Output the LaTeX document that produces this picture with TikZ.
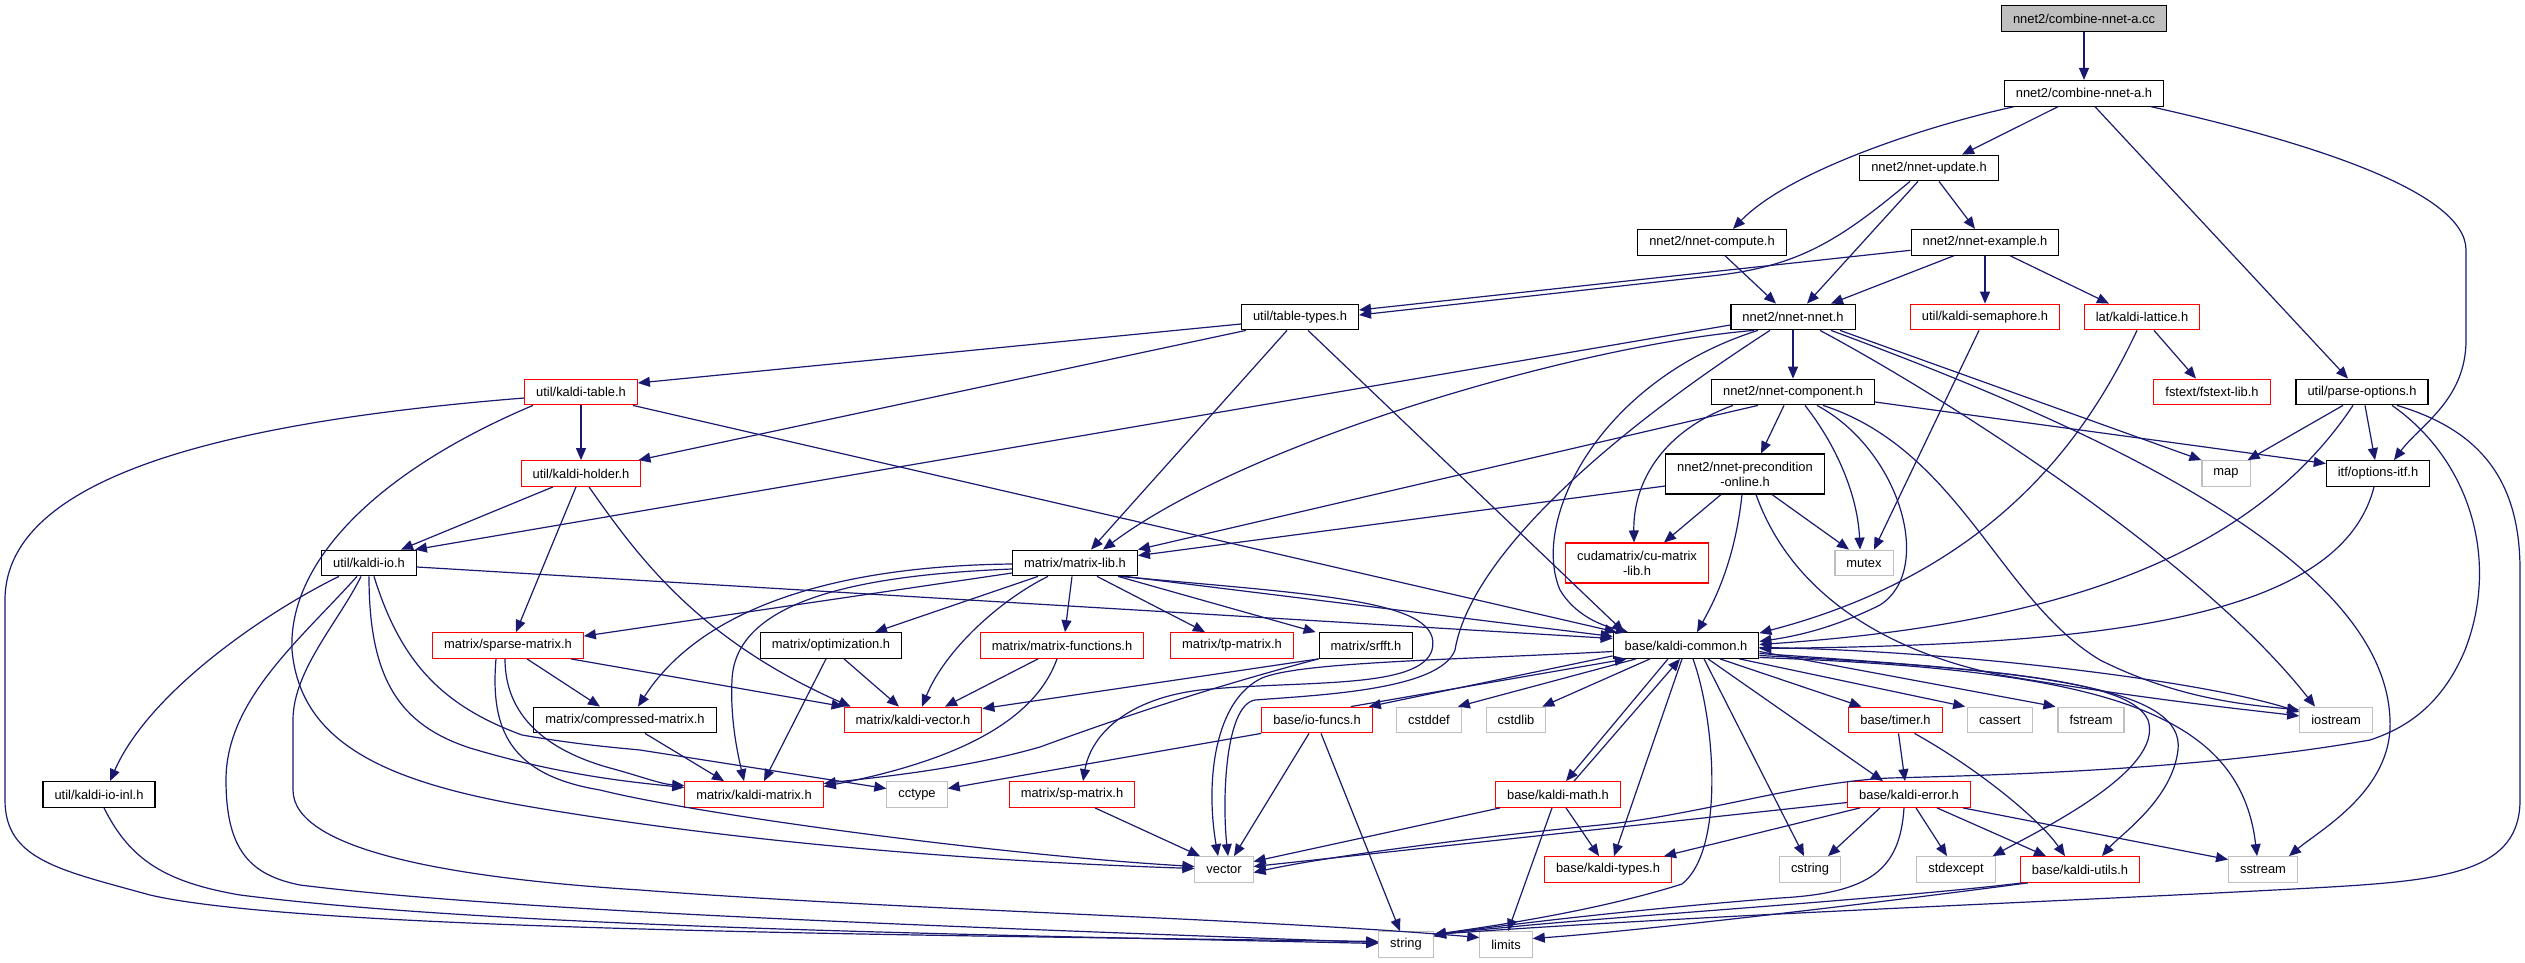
\documentclass[tikz,border=0pt]{standalone}
\usepackage{fontspec}
\setmainfont{Liberation Sans}
\usetikzlibrary{arrows.meta}
\definecolor{edgeblue}{HTML}{191970}
\definecolor{rootgray}{HTML}{BFBFBF}
\definecolor{boxgray}{HTML}{BFBFBF}
\definecolor{boxred}{HTML}{FF0000}
\tikzset{
  box/.style={draw=black, line width=1.1pt, fill=white, inner xsep=11.5pt, inner ysep=0pt,
    minimum height=25.7pt, font={\fontsize{12.9pt}{15pt}\selectfont}, text=black},
  redbox/.style={box, draw=boxred},
  graybox/.style={box, draw=boxgray},
  rootbox/.style={box, fill=rootgray},
  twoline/.style={align=center, minimum height=40pt},
  edge/.style={draw=edgeblue, line width=1.2pt, -{Triangle[length=12pt,width=10pt]}},
}
\begin{document}
\begin{tikzpicture}[x=1pt,y=-1pt]
\useasboundingbox (0,0) rectangle (2525,963);
% ---------- nodes ----------
\node[rootbox] (cc) at (2084,18.5) {nnet2/combine-nnet-a.cc};
\node[box] (combh) at (2084,93.3) {nnet2/combine-nnet-a.h};
\node[box] (update) at (1929,168) {nnet2/nnet-update.h};
\node[box] (example) at (1985,242.3) {nnet2/nnet-example.h};
\node[box] (compute) at (1712,242.3) {nnet2/nnet-compute.h};
\node[box] (nnet) at (1793,317) {nnet2/nnet-nnet.h};
\node[box] (tabletypes) at (1300,317) {util/table-types.h};
\node[redbox] (semaphore) at (1985,317) {util/kaldi-semaphore.h};
\node[redbox] (lattice) at (2142,317) {lat/kaldi-lattice.h};
\node[redbox] (kaldtable) at (581,392) {util/kaldi-table.h};
\node[box] (component) at (1793,392) {nnet2/nnet-component.h};
\node[redbox] (fstext) at (2212,392) {fstext/fstext-lib.h};
\node[box] (parseopt) at (2362,392) {util/parse-options.h};
\node[redbox] (holder) at (581,473.5) {util/kaldi-holder.h};
\node[box,twoline] (precond) at (1745,474) {nnet2/nnet-precondition\\-online.h};
\node[graybox] (nmap) at (2226,473.5) {map};
\node[box] (optionsitf) at (2378,473.5) {itf/options-itf.h};
\node[box] (kaldiio) at (369,563) {util/kaldi-io.h};
\node[box] (matrixlib) at (1075,563) {matrix/matrix-lib.h};
\node[redbox,twoline] (cumatrix) at (1637,563) {cudamatrix/cu-matrix\\-lib.h};
\node[graybox] (mutex) at (1864,563) {mutex};
\node[redbox] (sparse) at (508,645.5) {matrix/sparse-matrix.h};
\node[box] (optim) at (831,645.5) {matrix/optimization.h};
\node[redbox] (matfunc) at (1062,645.5) {matrix/matrix-functions.h};
\node[redbox] (tpmat) at (1232,645.5) {matrix/tp-matrix.h};
\node[box] (srfft) at (1366,645.5) {matrix/srfft.h};
\node[box] (common) at (1686,645.5) {base/kaldi-common.h};
\node[box] (compressed) at (625,720) {matrix/compressed-matrix.h};
\node[redbox] (kvector) at (913,720) {matrix/kaldi-vector.h};
\node[redbox] (iofuncs) at (1317,720) {base/io-funcs.h};
\node[graybox] (cstddef) at (1429,720) {cstddef};
\node[graybox] (cstdlib) at (1516,720) {cstdlib};
\node[redbox] (timer) at (1895.5,720) {base/timer.h};
\node[graybox] (cassert) at (2000,720) {cassert};
\node[graybox] (fstream) at (2091,720) {fstream};
\node[graybox] (iostream) at (2336,720) {iostream};
\node[box] (kaldiioinl) at (99,794.5) {util/kaldi-io-inl.h};
\node[redbox] (kmatrix) at (754,794.5) {matrix/kaldi-matrix.h};
\node[graybox] (cctype) at (917,794.5) {cctype};
\node[redbox] (spmatrix) at (1072,794.5) {matrix/sp-matrix.h};
\node[redbox] (kmath) at (1558,794.5) {base/kaldi-math.h};
\node[redbox] (kerror) at (1909,794.5) {base/kaldi-error.h};
\node[graybox] (nvector) at (1224,869.5) {vector};
\node[redbox] (ktypes) at (1608,869.5) {base/kaldi-types.h};
\node[graybox] (cstring) at (1810,869.5) {cstring};
\node[graybox] (stdexcept) at (1956,869.5) {stdexcept};
\node[redbox] (kutils) at (2080,869.5) {base/kaldi-utils.h};
\node[graybox] (sstream) at (2263,869.5) {sstream};
\node[graybox] (nstring) at (1406,944.5) {string};
\node[graybox] (limits) at (1506,944.5) {limits};
% ---------- edges ----------
\draw[edge] (cc) -- (combh);
\draw[edge] ([xshift=-70pt]combh.south) .. controls (1930,125) and (1790,170) .. ([xshift=21pt]compute.north);
\draw[edge] ([xshift=-26pt]combh.south) -- ([xshift=33pt]update.north);
\draw[edge] ([xshift=11pt]combh.south) -- ([xshift=-14pt]parseopt.north);
\draw[edge] ([xshift=67pt]combh.south) .. controls (2300,140) and (2466,190) .. (2466,250) -- (2466,340) .. controls (2466,400) and (2420,425) .. ([xshift=16pt]optionsitf.north);
\draw[edge] ([xshift=-19pt]update.south) .. controls (1840,240) and (1800,265) .. (1720,275) -- ([yshift=2pt]tabletypes.east);
\draw[edge] ([xshift=-11pt]update.south) -- ([xshift=14pt]nnet.north);
\draw[edge] ([xshift=10pt]update.south) -- ([xshift=-10pt]example.north);
\draw[edge] ([yshift=-8pt]example.west) -- ([yshift=7pt]tabletypes.east);
\draw[edge] ([xshift=-31pt]example.south) -- ([xshift=38pt]nnet.north);
\draw[edge] (example) -- (semaphore);
\draw[edge] ([xshift=25pt]example.south) -- ([xshift=-33pt]lattice.north);
\draw[edge] ([xshift=13pt]compute.south) -- ([xshift=-17pt]nnet.north);
\draw[edge] ([yshift=-7pt]tabletypes.west) -- ([yshift=9pt]kaldtable.east);
\draw[edge] ([xshift=-54pt]tabletypes.south) -- ([xshift=-3pt]holder.north east);
\draw[edge] ([xshift=-13pt]tabletypes.south) -- ([xshift=16pt]matrixlib.north);
\draw[edge] ([xshift=8pt]tabletypes.south) -- ([xshift=-62pt]common.north);
\draw[edge] ([yshift=-6pt]kaldtable.west) .. controls (250,420) and (5,470) .. (5,600) -- (5,800) .. controls (5,860) and (60,870) .. (150,895) .. controls (300,930) and (900,935) .. ([yshift=3pt]nstring.west);
\draw[edge] (kaldtable) -- (holder);
\draw[edge] ([xshift=-5pt]kaldtable.south east) -- ([xshift=4pt]common.north west);
\draw[edge] ([xshift=-48pt]kaldtable.south) .. controls (380,470) and (288,560) .. (292,650) .. controls (300,740) and (380,780) .. (520,805) .. controls (750,845) and (1000,862) .. ([yshift=1pt]nvector.west);
\draw[edge] ([xshift=-28pt]holder.south) -- ([xshift=32pt]kaldiio.north);
\draw[edge] ([xshift=-5pt]holder.south) -- ([xshift=8pt]sparse.north);
\draw[edge] ([xshift=8pt]holder.south) .. controls (640,560) and (700,640) .. ([xshift=7pt]kvector.north west);
\draw[edge] ([xshift=-30pt]kaldiio.south) .. controls (270,610) and (150,690) .. ([xshift=11pt]kaldiioinl.north);
\draw[edge] ([xshift=-12pt]kaldiio.south) .. controls (300,640) and (226,700) .. (226,780) .. controls (226,850) and (250,875) .. (300,885) .. controls (500,910) and (900,925) .. ([yshift=2pt]nstring.west);
\draw[edge] ([xshift=-8pt]kaldiio.south) .. controls (340,620) and (293,670) .. (293,720) -- (293,790) .. controls (293,850) and (450,878) .. (640,890) .. controls (900,910) and (1250,918) .. ([yshift=7pt]limits.west);
\draw[edge] (kaldiio.south) .. controls (369,680) and (400,725) .. (470,748) .. controls (560,775) and (630,782) .. ([yshift=7pt]kmatrix.west);
\draw[edge] ([xshift=5pt]kaldiio.south) .. controls (400,660) and (440,705) .. (522,735) .. controls (580,745) and (620,748) .. (640,750) -- ([yshift=6pt]cctype.west);
\draw[edge] ([yshift=-4pt]kaldiio.east) -- ([yshift=7pt]common.west);
\draw[edge] ([xshift=19pt]sparse.south) -- ([xshift=-25pt]compressed.north);
\draw[edge] ([xshift=-13pt]sparse.south east) -- (kvector.north west);
\draw[edge] ([xshift=-3pt]sparse.south) .. controls (505,715) and (545,750) .. (610,768) .. controls (640,776) and (660,784) .. ([yshift=9pt]kmatrix.west);
\draw[edge] ([xshift=-12pt]sparse.south) .. controls (490,730) and (510,775) .. (600,790) .. controls (700,815) and (1000,855) .. ([yshift=3pt]nvector.west);
\draw[edge] ([yshift=-1pt]matrixlib.west) .. controls (830,566) and (700,610) .. ([xshift=13pt]compressed.north);
\draw[edge] ([yshift=-6pt]matrixlib.west) .. controls (860,575) and (735,600) .. (732,680) .. controls (730,720) and (738,755) .. ([xshift=-10pt]kmatrix.north);
\draw[edge] ([yshift=-10pt]matrixlib.west) -- ([yshift=-4pt]sparse.north east);
\draw[edge] ([xshift=-37pt]matrixlib.south) -- ([xshift=44pt]optim.north);
\draw[edge] ([xshift=-27pt]matrixlib.south) .. controls (1000,600) and (945,650) .. ([xshift=9pt]kvector.north);
\draw[edge] ([xshift=-3pt]matrixlib.south) -- ([xshift=3pt]matfunc.north);
\draw[edge] ([xshift=22pt]matrixlib.south) -- ([xshift=-27pt]tpmat.north);
\draw[edge] ([xshift=43pt]matrixlib.south) -- ([xshift=-3pt]srfft.north west);
\draw[edge] ([xshift=50pt]matrixlib.south) -- ([yshift=9pt]common.west);
\draw[edge] ([xshift=45pt]matrixlib.south) .. controls (1320,595) and (1445,600) .. (1432,650) .. controls (1420,690) and (1300,680) .. (1200,690) .. controls (1120,700) and (1090,740) .. ([xshift=11pt]spmatrix.north);
\draw[edge] ([xshift=13pt]optim.south) -- ([xshift=-14pt]kvector.north);
\draw[edge] ([xshift=-5pt]optim.south) -- ([xshift=10pt]kmatrix.north);
\draw[edge] ([xshift=-24pt]matfunc.south) -- ([xshift=32pt]kvector.north);
\draw[edge] ([xshift=-5pt]matfunc.south) .. controls (1035,720) and (960,760) .. ([yshift=8pt]kmatrix.east);
\draw[edge] (srfft.south west) -- ([yshift=-2pt]kvector.north east);
\draw[edge] (srfft.south west) .. controls (1200,690) and (1100,725) .. (1040,747) .. controls (960,770) and (870,778) .. ([yshift=11pt]kmatrix.east);
\draw[edge] ([xshift=20pt]compressed.south) -- ([xshift=-30pt]kmatrix.north);
\draw[edge] ([xshift=23pt]spmatrix.south) -- ([xshift=-24pt]nvector.north);
\draw[edge] (nnet) -- (component);
\draw[edge] ([yshift=-8pt]nnet.west) -- ([xshift=-2pt]kaldiio.north east);
\draw[edge] ([xshift=-39pt]nnet.south) .. controls (1580,345) and (1250,440) .. ([xshift=28pt]matrixlib.north);
\draw[edge] ([xshift=-35pt]nnet.south) .. controls (1600,380) and (1530,520) .. (1560,590) .. controls (1575,615) and (1600,625) .. ([xshift=-58pt]common.north);
\draw[edge] ([xshift=-23pt]nnet.south) .. controls (1600,440) and (1470,560) .. (1455,650) .. controls (1440,690) and (1320,695) .. (1255,700) .. controls (1225,705) and (1222,800) .. ([xshift=4pt]nvector.north);
\draw[edge] ([xshift=47pt]nnet.south) -- (nmap.north west);
\draw[edge] ([xshift=27pt]nnet.south) .. controls (1950,400) and (2200,560) .. ([xshift=-21pt]iostream.north);
\draw[edge] ([xshift=38pt]nnet.south) .. controls (2100,430) and (2385,560) .. (2390,720) .. controls (2393,790) and (2320,830) .. ([xshift=26pt]sstream.north);
\draw[edge] ([xshift=-6pt]semaphore.south) -- ([xshift=10pt]mutex.north);
\draw[edge] ([xshift=12pt]lattice.south) -- ([xshift=-16pt]fstext.north);
\draw[edge] ([xshift=-5pt]lattice.south) .. controls (2090,430) and (2000,570) .. ([yshift=-1pt]common.north east);
\draw[edge] ([xshift=-9pt]component.south) -- ([xshift=16pt]precond.north);
\draw[edge] ([xshift=-60pt]component.south) .. controls (1665,430) and (1633,480) .. ([xshift=-3pt]cumatrix.north);
\draw[edge] ([xshift=-35pt]component.south) -- (matrixlib.north east);
\draw[edge] ([xshift=12pt]component.south) .. controls (1840,450) and (1858,500) .. ([xshift=-4pt]mutex.north);
\draw[edge] ([xshift=24pt]component.south) .. controls (1900,450) and (1935,570) .. (1880,605) .. controls (1830,630) and (1790,637) .. ([yshift=4pt]common.east);
\draw[edge] ([yshift=-10pt]component.east) -- ([yshift=10pt]optionsitf.west);
\draw[edge] ([xshift=30pt]component.south) .. controls (1960,450) and (2000,600) .. (2100,660) .. controls (2180,700) and (2250,705) .. ([yshift=10pt]iostream.west);
\draw[edge] ([xshift=-24pt]precond.south) -- ([xshift=27pt]cumatrix.north);
\draw[edge] ([yshift=-12pt]precond.west) -- ([yshift=-6pt]matrixlib.north east);
\draw[edge] ([xshift=-3pt]precond.south) .. controls (1735,560) and (1715,600) .. ([xshift=11pt]common.north);
\draw[edge] ([xshift=27pt]precond.south) -- ([xshift=-15pt]mutex.north);
\draw[edge] ([xshift=11pt]precond.south) .. controls (1790,590) and (1880,650) .. (2000,675) .. controls (2150,700) and (2250,710) .. ([yshift=4pt]iostream.west);
\draw[edge] ([xshift=-19pt]parseopt.south) -- ([xshift=-3pt]nmap.north east);
\draw[edge] ([xshift=3pt]parseopt.south) -- ([xshift=-3pt]optionsitf.north);
\draw[edge] ([xshift=-9pt]parseopt.south) .. controls (2250,560) and (2050,625) .. ([yshift=1pt]common.east);
\draw[edge] ([xshift=-4pt]optionsitf.south) .. controls (2340,620) and (2100,645) .. ([yshift=-3pt]common.east);
\draw[edge] ([xshift=30pt]parseopt.south) .. controls (2470,460) and (2500,560) .. (2465,650) .. controls (2440,710) and (2400,730) .. (2370,740) .. controls (2200,770) and (2000,775) .. (1890,778) .. controls (1800,782) and (1700,815) .. (1600,825) .. controls (1450,840) and (1320,858) .. ([yshift=-3pt]nvector.east);
\draw[edge] ([xshift=35pt]parseopt.south) .. controls (2480,430) and (2520,480) .. (2520,570) -- (2520,800) .. controls (2520,870) and (2450,880) .. (2330,887) .. controls (2100,900) and (1700,915) .. ([yshift=10pt]nstring.east);
\draw[edge] ([yshift=3pt]common.south west) -- ([xshift=-4pt]iofuncs.north east);
\draw[edge] ([xshift=-22pt]iofuncs.north east) -- ([xshift=14pt]common.south west);
\draw[edge] ([xshift=-50pt]common.south) -- ([xshift=-4pt]cstddef.north east);
\draw[edge] ([xshift=-36pt]common.south) -- ([xshift=-4pt]cstdlib.north east);
\draw[edge] ([xshift=-18pt]common.south) -- ([xshift=8pt]kmath.north);
\draw[edge] ([xshift=16pt]kmath.north) -- ([xshift=-6pt]common.south);
\draw[edge] ([xshift=-4pt]common.south) -- ([xshift=6pt]ktypes.north);
\draw[edge] ([xshift=7pt]common.south) .. controls (1715,720) and (1725,850) .. (1682,884) .. controls (1600,910) and (1500,925) .. ([yshift=10pt]nstring.east);
\draw[edge] ([xshift=18pt]common.south) -- ([xshift=-6pt]cstring.north);
\draw[edge] ([xshift=22pt]common.south) -- ([xshift=-26pt]kerror.north);
\draw[edge] ([xshift=34pt]common.south) -- ([xshift=-34pt]timer.north);
\draw[edge] ([xshift=-20pt]common.south east) -- ([xshift=-2pt]cassert.north west);
\draw[edge] ([yshift=-6pt]common.east) -- ([xshift=-2pt]fstream.north west);
\draw[edge] ([yshift=-2pt]common.east) .. controls (1950,650) and (2200,680) .. ([yshift=8pt]iostream.west);
\draw[edge] ([yshift=-8pt]common.east) .. controls (2000,670) and (2130,680) .. (2148,720) .. controls (2165,770) and (2040,830) .. ([xshift=-3pt]stdexcept.north east);
\draw[edge] ([yshift=-10pt]common.east) .. controls (2050,670) and (2185,690) .. (2178,750) .. controls (2172,800) and (2120,835) .. ([xshift=22pt]kutils.north);
\draw[edge] ([yshift=-12pt]common.east) .. controls (2100,670) and (2240,710) .. ([xshift=-6pt]sstream.north);
\draw[edge] ([yshift=-6pt]common.west) .. controls (1450,660) and (1300,662) .. (1262,678) .. controls (1215,700) and (1205,780) .. ([xshift=-6pt]nvector.north);
\draw[edge] ([xshift=4pt]iofuncs.south) -- ([xshift=-6pt]nstring.north);
\draw[edge] (iofuncs.south west) -- ([yshift=6pt]cctype.east);
\draw[edge] ([xshift=-8pt]iofuncs.south) -- ([xshift=10pt]nvector.north);
\draw[edge] ([xshift=8pt]kmath.south) -- ([xshift=-9pt]ktypes.north);
\draw[edge] ([xshift=-6pt]kmath.south) -- ([xshift=2pt]limits.north);
\draw[edge] ([xshift=5pt]kmath.south west) -- ([yshift=8pt]nvector.east);
\draw[edge] ([yshift=-8pt]kerror.west) -- ([yshift=3pt]nvector.east);
\draw[edge] ([xshift=-49pt]kerror.south) -- ([xshift=-8pt]ktypes.north east);
\draw[edge] ([xshift=-29pt]kerror.south) -- ([xshift=18pt]cstring.north);
\draw[edge] ([xshift=-5pt]kerror.south) .. controls (1900,870) and (1870,893) .. (1780,898) .. controls (1650,908) and (1500,925) .. ([yshift=9pt]nstring.east);
\draw[edge] ([xshift=7pt]kerror.south) -- ([xshift=-9pt]stdexcept.north);
\draw[edge] ([xshift=28pt]kerror.south) -- ([xshift=-34pt]kutils.north);
\draw[edge] ([xshift=-8pt]kerror.south east) -- ([yshift=10pt]sstream.west);
\draw[edge] ([xshift=3pt]timer.south) -- ([xshift=-4pt]kerror.north);
\draw[edge] ([xshift=19pt]timer.south) .. controls (1980,770) and (2040,820) .. ([xshift=-15pt]kutils.north);
\draw[edge] ([xshift=2pt]kutils.south west) .. controls (1900,898) and (1600,918) .. (1520,926) .. controls (1480,930) and (1450,932) .. ([yshift=8pt]nstring.east);
\draw[edge] ([xshift=8pt]kutils.south west) .. controls (1900,900) and (1650,930) .. ([yshift=6pt]limits.east);
\draw[edge] ([xshift=5pt]kaldiioinl.south) .. controls (130,860) and (165,882) .. (240,895) .. controls (500,928) and (1000,935) .. ([yshift=1pt]nstring.west);
\end{tikzpicture}
\end{document}
